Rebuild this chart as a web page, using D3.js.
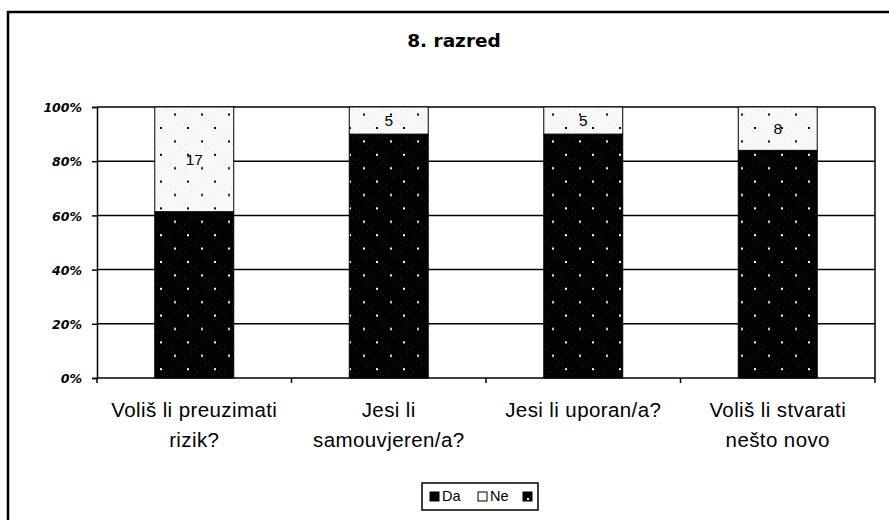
<!DOCTYPE html>
<html>
<head>
<meta charset="utf-8">
<script src="https://cdn.jsdelivr.net/npm/d3@7"></script>
<style>
  body { margin: 0; background: #fff; }
  text { font-family: "Liberation Sans", Arial, sans-serif; }
</style>
</head>
<body>
<script>
// chart data
var categories = ["Voliš li preuzimati\nrizik?", "Jesi li\nsamouvjeren/a?", "Jesi li uporan/a?", "Voliš li stvarati\nnešto novo"];
var daValues = [27, 45, 45, 42];
var neValues = [17, 5, 5, 8];
var seriesNames = ["Da", "Ne", ""];
var yTicks = [0, 0.2, 0.4, 0.6, 0.8, 1];
var title = "8. razred";

var width = 889, height = 520;
var plot = {left: 97, right: 875, top: 107, bottom: 378};

var svg = d3.select("body").append("svg")
  .attr("width", width)
  .attr("height", height);

// fill patterns: black w/ white dots, white w/ black dots
var defs = svg.append("defs");
function dotPattern(id, bg, tex, dot) {
  var p = defs.append("pattern")
    .attr("id", id)
    .attr("patternUnits", "userSpaceOnUse")
    .attr("x", 160).attr("y", 127)
    .attr("width", 27).attr("height", 26.8);
  p.append("rect").attr("width", 27).attr("height", 26.8).attr("fill", bg);
  [[4, 4], [10, 10], [10, 4], [4, 10], [7, 7], [18, 17], [24, 23], [24, 17], [18, 23], [21, 20]].forEach(function(q) {
    p.append("rect").attr("x", q[0]).attr("y", q[1]).attr("width", 1).attr("height", 1).attr("fill", tex);
  });
  p.append("rect").attr("x", 0).attr("y", 0).attr("width", 2).attr("height", 2).attr("fill", dot);
  p.append("rect").attr("x", 14).attr("y", 13.4).attr("width", 2).attr("height", 2).attr("fill", dot);
}
dotPattern("pDa", "#030303", "#262626", "#fff");
dotPattern("pNe", "#f8f8f8", "#dcdcdc", "#000");

// outer chart border
svg.append("rect")
  .attr("x", 8).attr("y", 12)
  .attr("width", 900).attr("height", 530)
  .attr("fill", "none")
  .attr("stroke", "#000")
  .attr("stroke-width", 2.5);

svg.append("text")
  .attr("x", 454).attr("y", 47)
  .attr("text-anchor", "middle")
  .style("font-family", "'DejaVu Sans', sans-serif")
  .style("font-weight", "bold")
  .style("font-size", "18.5px")
  .text(title);

var x = d3.scaleBand()
  .domain(categories)
  .range([plot.left, plot.right])
  .padding(0);

var y = d3.scaleLinear()
  .domain([0, 1])
  .range([plot.bottom, plot.top]);

// gridlines
svg.append("g")
  .selectAll("line")
  .data(yTicks.slice(1))
  .enter()
  .append("line")
  .attr("x1", plot.left).attr("x2", plot.right)
  .attr("y1", d => y(d)).attr("y2", d => y(d))
  .attr("stroke", "#000")
  .attr("stroke-width", 1.5);

svg.append("line")
  .attr("x1", plot.right).attr("x2", plot.right)
  .attr("y1", plot.top).attr("y2", plot.bottom)
  .attr("stroke", "#000")
  .attr("stroke-width", 1.5);

// stacked 100% bars
var table = categories.map(function(c, i) {
  return {cat: c, Da: daValues[i], Ne: neValues[i]};
});
var stacked = d3.stack()
  .keys(["Da", "Ne"])
  .offset(d3.stackOffsetExpand)(table);

var barW = x.bandwidth() * 0.406;
var fills = {Da: "url(#pDa)", Ne: "url(#pNe)"};

var layers = svg.append("g")
  .selectAll("g")
  .data(stacked)
  .enter()
  .append("g");

layers.selectAll("rect")
  .data(d => d.map(v => ({key: d.key, v: v})))
  .enter()
  .append("rect")
  .attr("x", d => x(d.v.data.cat) + (x.bandwidth() - barW) / 2)
  .attr("y", d => y(d.v[1]))
  .attr("width", barW)
  .attr("height", d => y(d.v[0]) - y(d.v[1]))
  .attr("fill", d => fills[d.key])
  .attr("stroke", "#000")
  .attr("stroke-width", 1);

layers.selectAll("text")
  .data(d => d.map(v => ({key: d.key, v: v})))
  .enter()
  .append("text")
  .attr("x", d => x(d.v.data.cat) + x.bandwidth() / 2)
  .attr("y", d => (y(d.v[0]) + y(d.v[1])) / 2)
  .attr("dy", "0.36em")
  .attr("text-anchor", "middle")
  .style("font-size", "15.5px")
  .attr("fill", "#000")
  .text(d => d.v.data[d.key]);

// y axis
var yAxis = svg.append("g")
  .attr("transform", "translate(" + plot.left + ",0)")
  .call(d3.axisLeft(y).tickValues(yTicks).tickFormat(d3.format(".0%")).tickSize(5).tickPadding(10));
yAxis.select(".domain").attr("stroke", "#000").attr("stroke-width", 1.5);
yAxis.selectAll(".tick line").attr("stroke", "#000").attr("stroke-width", 1.5);
yAxis.selectAll(".tick text")
  .attr("fill", "#000")
  .attr("dy", "0.38em")
  .style("font-family", "'DejaVu Sans', sans-serif")
  .style("font-weight", "bold")
  .style("font-style", "italic")
  .style("font-size", "12.5px");

// x axis: ticks at category edges
var xAxisG = svg.append("g");
xAxisG.append("line")
  .attr("x1", plot.left).attr("x2", plot.right)
  .attr("y1", plot.bottom).attr("y2", plot.bottom)
  .attr("stroke", "#000").attr("stroke-width", 1.5);
var edges = categories.map(c => x(c)).concat([plot.right]);
xAxisG.selectAll(".edge")
  .data(edges)
  .enter()
  .append("line")
  .attr("x1", d => d).attr("x2", d => d)
  .attr("y1", plot.bottom).attr("y2", plot.bottom + 5)
  .attr("stroke", "#000").attr("stroke-width", 1.5);

xAxisG.selectAll(".cat")
  .data(categories)
  .enter()
  .append("text")
  .attr("text-anchor", "middle")
  .style("font-size", "20.5px")
  .style("letter-spacing", "0.4px")
  .each(function(c) {
    var t = d3.select(this);
    c.split("\n").forEach(function(line, i) {
      t.append("tspan")
        .attr("x", x(c) + x.bandwidth() / 2)
        .attr("y", 417 + i * 30)
        .text(line);
    });
  });

// legend
var legend = svg.append("g").attr("transform", "translate(422,483)");
legend.append("rect")
  .attr("width", 116).attr("height", 27)
  .attr("fill", "#fff")
  .attr("stroke", "#000")
  .attr("stroke-width", 1.5);
var legX = [8, 56, 101];
var items = legend.selectAll(".item")
  .data(seriesNames)
  .enter()
  .append("g")
  .attr("transform", (d, i) => "translate(" + legX[i] + ",9)");
items.append("rect")
  .attr("width", 9).attr("height", 9)
  .attr("fill", (d, i) => i == 1 ? "#fff" : "#000")
  .attr("stroke", "#000")
  .attr("stroke-width", 1);
items.filter((d, i) => i == 2)
  .append("rect")
  .attr("x", 4).attr("y", 6).attr("width", 2).attr("height", 2)
  .attr("fill", "#fff");
items.append("text")
  .attr("x", 12).attr("y", 9)
  .style("font-size", "14.5px")
  .text(d => d);
</script>
</body>
</html>
